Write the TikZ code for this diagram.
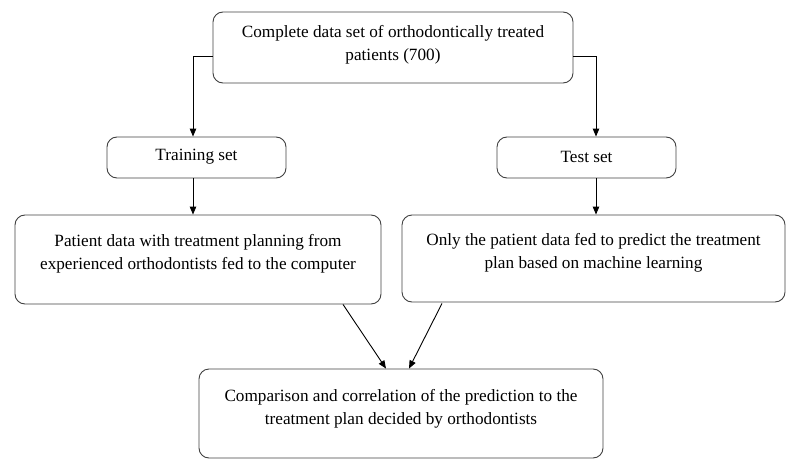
\documentclass[tikz,border=0pt]{standalone}
\usepackage{fontspec}
\setmainfont{Liberation Serif}
\usetikzlibrary{arrows.meta}
\begin{document}
\begin{tikzpicture}[x=1pt,y=-1pt,
  box/.style={draw=black!75,line width=0.9pt,rounded corners=10pt,inner sep=0pt},
  txt/.style={align=center,inner sep=0pt,font=\fontsize{17.2}{22.5}\selectfont},
  arr/.style={draw=black,line width=0.9pt,-{Triangle[length=8pt,width=6.5pt]}}]
\useasboundingbox (0,0) rectangle (794,468);
% boxes
\node[box,minimum width=360,minimum height=71] (top) at (393,47.5) {};
\node[txt] (toptxt) at (393,45) {Complete data set of orthodontically treated\\patients (700)};
\node[box,minimum width=179,minimum height=41] (train) at (196.5,157.5) {};
\node[txt] (traintxt) at (196.5,157) {Training set};
\node[box,minimum width=179,minimum height=41] (test) at (586.5,157.5) {};
\node[txt] (testtxt) at (586.5,157) {Test set};
\node[box,minimum width=366,minimum height=89] (lb) at (198,259.5) {};
\node[txt] (lbtxt) at (198,254) {Patient data with treatment planning from\\experienced orthodontists fed to the computer};
\node[box,minimum width=383,minimum height=87] (rb) at (593.5,258.5) {};
\node[txt] (rbtxt) at (593.5,253) {Only the patient data fed to predict the treatment\\plan based on machine learning};
\node[box,minimum width=404,minimum height=89] (bot) at (401,413.5) {};
\node[txt] (bottxt) at (401,409) {Comparison and correlation of the prediction to the\\treatment plan decided by orthodontists};
% arrows
\draw[arr] ([yshift=-8.5]top.west) -| ([xshift=-3.5]train.north);
\draw[arr] ([yshift=-8.5]top.east) -| ([xshift=9.5]test.north);
\draw[arr] ([xshift=-3.5]train.south) -- ([xshift=-5]lb.north);
\draw[arr] ([xshift=9.5]test.south) -- ([xshift=2.5]rb.north);
\draw[arr] ([xshift=145]lb.south) -- ([xshift=-15]bot.north);
\draw[arr] ([xshift=-151.5,yshift=-1]rb.south) -- ([xshift=8]bot.north);
\end{tikzpicture}
\end{document}
